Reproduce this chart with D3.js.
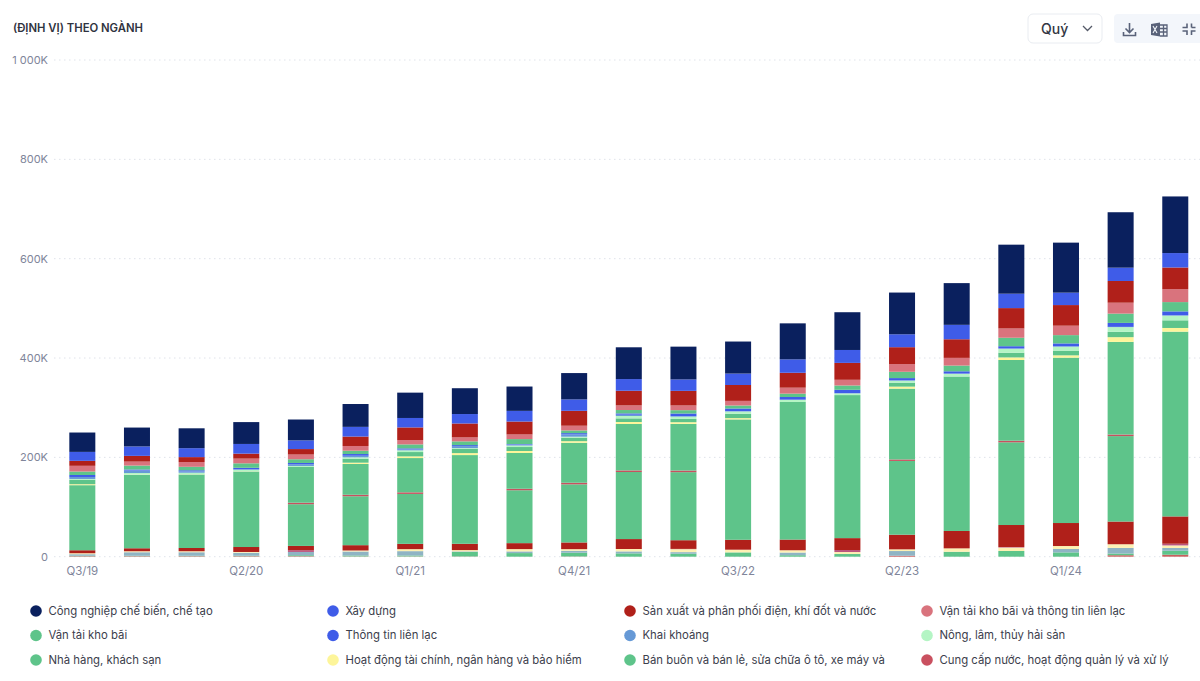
<!DOCTYPE html>
<html><head><meta charset="utf-8">
<script src="https://cdn.jsdelivr.net/npm/d3@7/dist/d3.min.js"></script>
<style>html,body{margin:0;padding:0;background:#fff}svg{display:block}text{font-family:Inter,"Noto Sans",sans-serif}</style>
</head><body><svg id="c" width="1200" height="681"></svg>
<script>
const categories=["Q3/19","Q4/19","Q1/20","Q2/20","Q3/20","Q4/20","Q1/21","Q2/21","Q3/21","Q4/21","Q1/22","Q2/22","Q3/22","Q4/22","Q1/23","Q2/23","Q3/23","Q4/23","Q1/24","Q2/24","Q3/24"];
const yTicks=[0,200,400,600,800,1000];
const yTickLabels=["0","200K","400K","600K","800K","1 000K"];
// Values in thousands, bottom of the stack first
const baseRose=[1,1,1,1,1,0.5,0.5,0.5,0,0.5,0,0,0,0,0,2,0,0,0,3,4];
const baseGreen=[1,1,1,1,2,2,2,9,7.3,7.5,6.7,6,8.7,3,5.4,0,10,11.5,8.7,3.4,8];
const baseGrey=[3,7,7,6,6.6,8,8.7,1.2,3.4,4,4,3.2,0,5.4,0,9.4,0,0,6.8,11.3,5.5];
const paleYellow=[2,2,2,1.5,0,2,4,2.6,4.6,3.2,4.8,6,5.4,4.6,4,3.4,6.8,7,6,7.4,5.2];
const thinRose=[0,0,0,0,3.4,0,0,0,0,0,0,0.5,0,0,4,0,0,1,0,0,3.4];
const darkRed=[6,6,6.5,10,8.7,10.7,10.7,12.7,12,13.5,20,17.5,20,21.5,24,29.5,35,44.3,46.3,45.7,55];
const lowerGreen=[0,0,0,0,84,98.5,100.5,0,106.5,117,135,137,0,0,0,148.5,0,166.5,0,172,0];
const waterWaste=[0,0,0,0,3,3,3.2,0,3,3.2,3.2,3.2,0,0,0,3,0,3.2,0,3.2,0];
const wholesale=[131,148,148,152,72,62,69,178.6,72,80.5,93.5,94,242.3,277,288,142.6,311,162.5,333,186.5,372];
const finance=[2,0.5,0.5,0.5,0,2.6,3.4,4,4,3.2,4,3.4,2.6,0,0,4,0,5.2,4.6,9.5,7.4];
const restaurants=[9,0,0,0,0,8,8.7,8.7,8,7,7.3,6.7,8.8,0,0,8,0,9.5,9.5,10.7,15.4];
const agriculture=[1.5,3,3,3,2,2.8,3.4,1.4,3,2,4.8,4.4,4.6,4,3.4,4,5.4,8,8,9.5,9.5];
const mining=[4,5,3,1,3.5,3.2,2,4,2,4.6,2.6,1,0.6,0.8,0.5,0.6,0.5,0.5,0.5,0.5,0.5];
const telecom=[4,2,2,3,2.5,3.4,2,2,1,2.6,2.6,5.4,5.4,5.2,6.7,4.6,4.6,4.6,6,8,8];
const transport=[7,8,7,9,7.5,6.7,8,7.5,10,5.4,6.8,6.7,6,6.8,8.7,12.7,11.5,17,16.7,18.7,18.7];
const transportTelecom=[11.5,8,9.5,9.5,9.5,9.5,8.7,8,9.3,9.5,9.3,9.5,9.3,12,11.5,15.5,15.5,18.7,19,22,26];
const electricity=[10,11.5,10,10,11,19,25.5,28,26,30,29.5,29.4,32,30,34,34,37.5,41,41.5,43.7,43.7];
const construction=[18,19,18,19.5,17.5,19.5,19,19,21.5,23,23.5,23,23,27,26,26,29,29,25,26.8,29];
const manufacturing=[39,38,40,44,42,46,51,52,49,53,64,66,64.5,72.5,76,84,84,98.7,100.7,111.6,114];

const seriesNames=["Công nghiệp chế biến, chế tạo","Xây dựng","Sản xuất và phân phối điện, khí đốt và nước","Vận tải kho bãi và thông tin liên lạc","Vận tải kho bãi","Thông tin liên lạc","Khai khoáng","Nông, lâm, thủy hải sản","Nhà hàng, khách sạn","Hoạt động tài chính, ngân hàng và bảo hiểm","Bán buôn và bán lẻ, sửa chữa ô tô, xe máy và","Cung cấp nước, hoạt động quản lý và xử lý"];
const seriesColors=["#0a205e","#3f5ce8","#b0201a","#d9737d","#5ec48a","#3f5ce8","#6699d6","#b4f5c4","#5ec48a","#fdf59a","#5ec48a","#c9505f"];
const legendValues=[manufacturing,construction,electricity,transportTelecom,transport,telecom,mining,agriculture,restaurants,finance,wholesale,waterWaste];
const extraLayers=[
 {v:baseRose,c:"#c9605f"},{v:baseGreen,c:"#5ec48a"},{v:baseGrey,c:"#8fb4c4"},{v:paleYellow,c:"#fdf1b4"},
 {v:thinRose,c:"#b9557f"},{v:darkRed,c:"#b0201a"},{v:lowerGreen,c:"#5ec48a"}];

const layers=[...extraLayers];
for(let i=11;i>=0;i--)layers.push({v:legendValues[i],c:seriesColors[i]});
const keys=layers.map((_,i)=>"s"+i);
const table=categories.map((q,j)=>{const r={q};layers.forEach((l,i)=>r["s"+i]=l.v[j]);return r;});
const stacked=d3.stack().keys(keys)(table);

const svg=d3.select("#c");
const x=d3.scaleBand().domain(categories).range([55,1202.6]).paddingInner(0.524).paddingOuter(0.262);
const y=d3.scaleLinear().domain([0,1000]).range([556.7,60]);

// grid + y axis
const yAxis=svg.append("g").attr("transform","translate(48,0)")
  .call(d3.axisLeft(y).tickValues(yTicks).tickSize(0).tickPadding(0).tickFormat((d,i)=>yTickLabels[i]));
yAxis.select(".domain").remove();
yAxis.selectAll("text").attr("x",0).attr("fill","#80859a").attr("font-size",11).style("font-family","Inter");
svg.append("g").selectAll("line").data(yTicks).join("line")
  .attr("x1",54).attr("x2",1200).attr("y1",d=>y(d)).attr("y2",d=>y(d))
  .attr("stroke","#dfe3ea").attr("stroke-width",1).attr("stroke-dasharray","1.5 3.5");

// bars
svg.append("g").selectAll("g").data(stacked).join("g").attr("fill",(d,i)=>layers[i].c)
  .selectAll("rect").data(d=>d.map(p=>({p,q:p.data.q}))).join("rect")
  .attr("x",d=>x(d.q)).attr("width",x.bandwidth())
  .attr("y",d=>y(d.p[1])).attr("height",d=>Math.max(0,y(d.p[0])-y(d.p[1])));

// x axis
const xAxis=svg.append("g").attr("transform","translate(0,564)")
  .call(d3.axisBottom(x).tickValues(categories.filter((_,i)=>i%3===0)).tickSize(0).tickPadding(3));
xAxis.select(".domain").remove();
xAxis.selectAll("text").attr("fill","#80859a").attr("font-size",11.5).style("font-family","Inter");

// title
svg.append("text").attr("x",13).attr("y",32).attr("font-size",11.3).attr("font-weight",600).attr("fill","#2f3340").text("(ĐỊNH VỊ) THEO NGÀNH");

// legend
const legCol=d3.scalePoint().domain([0,1,2,3]).range([36,927]);
const legRow=d3.scalePoint().domain([0,1,2]).range([611,660]);
const leg=svg.append("g").selectAll("g").data(seriesNames).join("g")
  .attr("transform",(d,i)=>`translate(${legCol(i%4)},${legRow(Math.floor(i/4))})`);
leg.append("circle").attr("r",5.8).attr("fill",(d,i)=>seriesColors[i]);
leg.append("text").attr("x",12.5).attr("dy","0.35em").attr("font-size",11.35).attr("fill","#3c404c").text(d=>d);

// controls
const ctl=svg.append("g");
ctl.append("rect").attr("x",1028).attr("y",14).attr("width",74).attr("height",29).attr("rx",5).attr("fill","#fff").attr("stroke","#e9ecf1");
ctl.append("text").attr("x",1041).attr("y",34).attr("font-size",14).attr("font-weight",500).attr("fill","#333744").text("Quý");
ctl.append("path").attr("d","M1083 26l4.5 4.5 4.5-4.5").attr("fill","none").attr("stroke","#555a68").attr("stroke-width",1.3);
ctl.append("rect").attr("x",1114).attr("y",14).attr("width",90).attr("height",29).attr("rx",4).attr("fill","#f3f6fb");
ctl.append("path").attr("d","M1129.5 23v9M1125.5 28.5l4 4 4-4M1123.5 32v3.5h12V32").attr("fill","none").attr("stroke","#596279").attr("stroke-width",1.6);
ctl.append("path").attr("d","M1151 24l9-1.5v14l-9-1.5z").attr("fill","#596279");
ctl.append("path").attr("d","M1153 26l4 7M1157 26l-4 7").attr("stroke","#f3f6fb").attr("stroke-width",1.1);
ctl.append("path").attr("d","M1160 25h7v11h-7M1160 28.5h7M1160 32h7M1163.5 25v11").attr("fill","none").attr("stroke","#596279").attr("stroke-width",1.3);
ctl.append("path").attr("d","M1187 23.5v4h-4.5M1191.5 27.5h4M1191.5 23.5v4M1182.5 31h4.5v4M1191.5 35v-4h4").attr("fill","none").attr("stroke","#596279").attr("stroke-width",1.6);
</script></body></html>
